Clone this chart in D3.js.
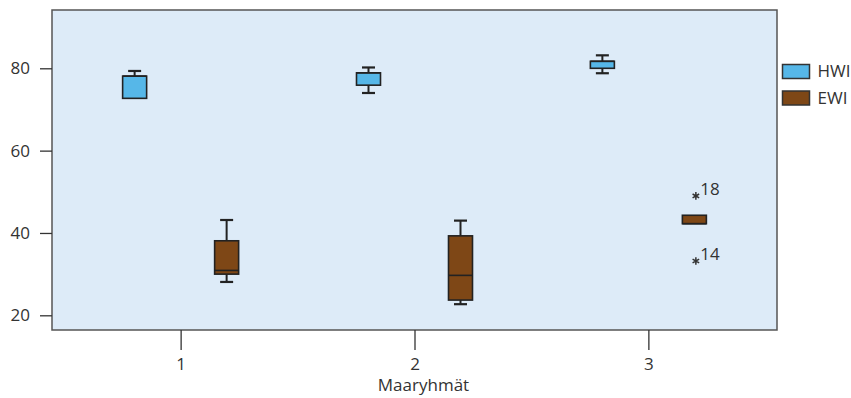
<!DOCTYPE html>
<html><head><meta charset="utf-8">
<script src="https://cdn.jsdelivr.net/npm/d3@7"></script>
<style>body{margin:0;background:#fff}svg{display:block}text{font-family:"Open Sans",sans-serif;fill:#333}</style>
</head><body><svg id="c" width="851" height="398"></svg>
<script>
const categories = ["1", "2", "3"];
const seriesNames = ["HWI", "EWI"];
const seriesColors = ["#56b7e8", "#7e4716"];
// HWI box statistics per category
const hwiLow    = [72.7, 74.0, 78.8];
const hwiQ1     = [72.7, 75.9, 80.0];
const hwiMedian = [78.1, 78.9, 81.7];
const hwiQ3     = [78.1, 78.9, 81.7];
const hwiHigh   = [79.35, 80.2, 83.15];
// EWI box statistics per category
const ewiLow    = [28.1, 22.7, 42.25];
const ewiQ1     = [30.0, 23.7, 42.25];
const ewiMedian = [30.9, 29.7, 42.25];
const ewiQ3     = [38.1, 39.3, 44.3];
const ewiHigh   = [43.15, 43.0, 44.3];
// outliers (EWI, category 3)
const outlierCategory = ["3", "3"];
const outlierValue = [49.0, 33.2];
const outlierLabel = ["18", "14"];
const yTicks = [20, 40, 60, 80];
const xTitle = "Maaryhmät";

const svg = d3.select("#c");
const L = 52, T = 10, R = 777, B = 330;
const FS = "17px";
const y = d3.scaleLinear().domain([16.43, 94.16]).range([B, T]);
const x = d3.scalePoint().domain(categories).range([L, R]).padding(0.55);
const off = d3.scaleBand().domain(seriesNames).range([-92, 92]).paddingInner(0).paddingOuter(0);
const boxW = 24, capW = 13;

svg.append("rect").attr("x", L).attr("y", T).attr("width", R - L).attr("height", B - T)
  .attr("fill", "#ddebf8").attr("stroke", "#555").attr("stroke-width", 1.5);

// y axis
const ya = svg.append("g").attr("transform", `translate(${L},0)`)
  .call(d3.axisLeft(y).tickValues(yTicks).tickSize(12).tickPadding(10).tickFormat(d3.format("d")));
ya.select(".domain").remove();
ya.selectAll("line").attr("stroke", "#333").attr("stroke-width", 1.3);
ya.selectAll("text").style("font-size", FS).attr("fill", "#333");

// x axis
const xa = svg.append("g").attr("transform", `translate(0,${B})`)
  .call(d3.axisBottom(x).tickSize(20).tickPadding(8));
xa.select(".domain").remove();
xa.selectAll("line").attr("stroke", "#333").attr("stroke-width", 1.3);
xa.selectAll("text").style("font-size", FS).attr("fill", "#333");

svg.append("text").attr("x", 423.5).attr("y", 391).attr("text-anchor", "middle")
  .style("font-size", FS).text(xTitle);

const series = [
  {name: "HWI", low: hwiLow, q1: hwiQ1, med: hwiMedian, q3: hwiQ3, high: hwiHigh},
  {name: "EWI", low: ewiLow, q1: ewiQ1, med: ewiMedian, q3: ewiQ3, high: ewiHigh}
];
const stroke = "#222";
series.forEach((s, si) => {
  categories.forEach((c, i) => {
    const cx = x(c) + off(s.name) + off.bandwidth() / 2;
    const g = svg.append("g");
    if (s.high[i] > s.q3[i]) {
      g.append("line").attr("x1", cx).attr("x2", cx).attr("y1", y(s.q3[i])).attr("y2", y(s.high[i]))
        .attr("stroke", stroke).attr("stroke-width", 2);
      g.append("line").attr("x1", cx - capW / 2).attr("x2", cx + capW / 2).attr("y1", y(s.high[i])).attr("y2", y(s.high[i]))
        .attr("stroke", stroke).attr("stroke-width", 2.2);
    }
    if (s.low[i] < s.q1[i]) {
      g.append("line").attr("x1", cx).attr("x2", cx).attr("y1", y(s.q1[i])).attr("y2", y(s.low[i]))
        .attr("stroke", stroke).attr("stroke-width", 2);
      g.append("line").attr("x1", cx - capW / 2).attr("x2", cx + capW / 2).attr("y1", y(s.low[i])).attr("y2", y(s.low[i]))
        .attr("stroke", stroke).attr("stroke-width", 2.2);
    }
    g.append("rect").attr("x", cx - boxW / 2).attr("y", y(s.q3[i])).attr("width", boxW)
      .attr("height", y(s.q1[i]) - y(s.q3[i])).attr("fill", seriesColors[si])
      .attr("stroke", stroke).attr("stroke-width", 1.6);
    g.append("line").attr("x1", cx - boxW / 2).attr("x2", cx + boxW / 2).attr("y1", y(s.med[i])).attr("y2", y(s.med[i]))
      .attr("stroke", stroke).attr("stroke-width", 1.6);
  });
});

// outliers
const ast = d3.symbol().type(d3.symbolAsterisk).size(40);
outlierValue.forEach((v, k) => {
  const cx = x(outlierCategory[k]) + off("EWI") + off.bandwidth() / 2 + 1.5;
  svg.append("path").attr("d", ast()).attr("transform", `translate(${cx},${y(v)})`)
    .attr("fill", "none").attr("stroke", "#333").attr("stroke-width", 1.5);
  svg.append("text").attr("x", cx + 4.5).attr("y", y(v) - 0.5).style("font-size", FS).text(outlierLabel[k]);
});

// legend
const lg = svg.append("g").attr("transform", "translate(782.5,64.5)");
seriesNames.forEach((n, i) => {
  lg.append("rect").attr("x", 0).attr("y", i * 26.5).attr("width", 27).attr("height", 14)
    .attr("fill", seriesColors[i]).attr("stroke", "#333").attr("stroke-width", 1.5);
  lg.append("text").attr("x", 35).attr("y", i * 26.5 + 7).attr("dy", "0.35em")
    .style("font-size", FS).text(n);
});
</script></body></html>
